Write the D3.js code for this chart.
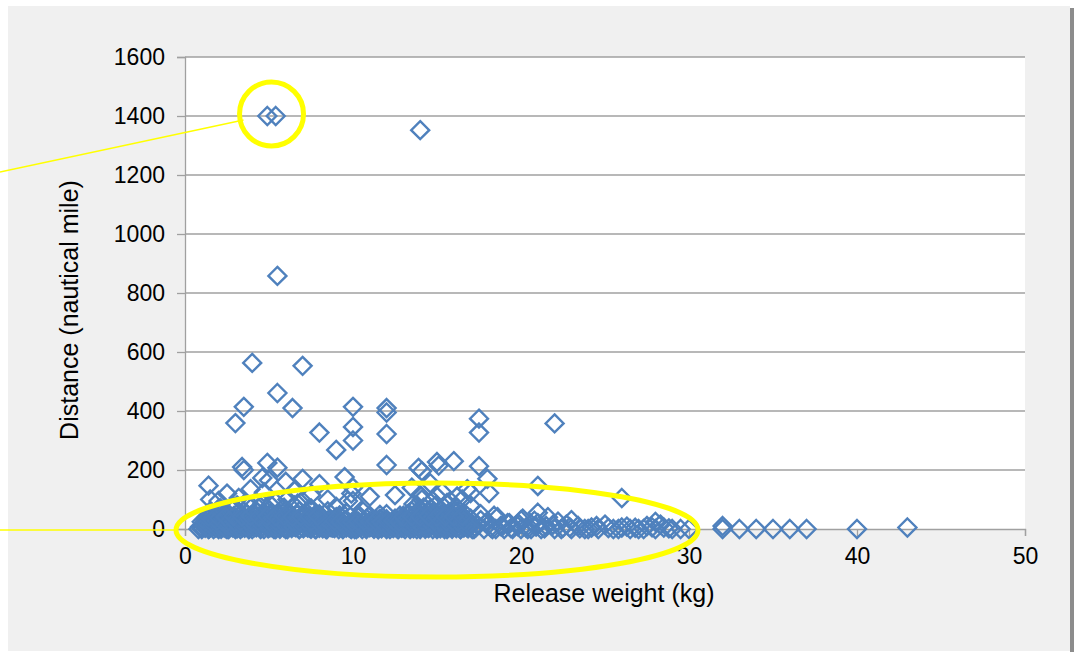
<!DOCTYPE html>
<html>
<head>
<meta charset="utf-8">
<script src="https://cdn.jsdelivr.net/npm/d3@7"></script>
<style>
  body { margin: 0; background: #fff; }
  svg text { font-family: "Liberation Sans", Arial, sans-serif; fill: #000; }
</style>
</head>
<body>
<svg id="chart" width="1080" height="653"></svg>
<script>
// tick labels
const xTicks = [0, 10, 20, 30, 40, 50];
const yTicks = [0, 200, 400, 600, 800, 1000, 1200, 1400, 1600];

// release weight (kg) / distance (nautical mile)
const outlierWeight = [4.9, 5.4, 14.0, 5.5, 4.0, 7.0, 5.5, 3.5, 6.4, 10.0, 12.0, 12.0, 3.0, 8.0, 10.0, 10.0, 12.0, 22.0, 17.5, 17.5,
  9.0, 12.0, 3.4, 3.5, 4.9, 5.5, 13.9, 14.1, 15.0, 15.1, 16.0, 17.5, 18.0, 1.4, 21.0, 26.0, 3.9, 8.0, 9.5, 17.0,
  18.1, 1.5, 2.0, 4.6, 5.0, 6.0, 7.0, 2.5, 13.5, 14.0, 15.3, 16.2, 16.8, 6.5, 7.5, 10.0, 11.0, 12.5, 8.5, 9.7,
  3.2, 4.7, 9.9, 14.6, 16.5];
const outlierDistance = [1400, 1400, 1352, 858, 563, 553, 461, 414, 410, 414, 410, 395, 359, 327, 346, 300, 322, 358, 374, 327,
  268, 217, 210, 200, 224, 208, 207, 196, 227, 215, 230, 213, 170, 147, 146, 105, 135, 152, 176, 122,
  122, 100, 95, 173, 165, 160, 170, 120, 140, 115, 125, 110, 135, 130, 115, 140, 110, 115, 100, 95,
  105, 125, 120, 155, 100];

const clusterWeight = [0.8, 1.0, 1.0, 1.2, 1.3, 1.4, 1.5, 1.6, 1.8, 1.8, 2.0, 2.0, 2.1, 2.3, 2.4, 2.5, 2.6, 2.8, 2.8, 3.0,
  3.0, 3.1, 3.2, 3.4, 3.5, 3.6, 3.8, 3.8, 4.0, 4.0, 4.2, 4.3, 4.5, 4.5, 4.6, 4.8, 5.0, 5.0, 5.1, 5.3,
  5.4, 5.5, 5.6, 5.8, 6.0, 6.0, 6.1, 6.2, 6.4, 6.5, 6.6, 6.8, 6.8, 7.0, 7.0, 7.2, 7.4, 7.5, 7.6, 7.8,
  8.0, 8.0, 8.2, 8.4, 8.5, 8.6, 8.8, 9.0, 9.0, 9.2, 9.4, 9.5, 9.6, 9.8, 10.0, 10.0, 10.2, 10.3, 10.5, 10.6,
  10.8, 11.0, 11.0, 11.2, 11.4, 11.5, 11.6, 11.8, 12.0, 12.0, 12.2, 12.4, 12.5, 12.7, 12.8, 13.0, 13.0, 13.2, 13.4, 13.5,
  13.6, 13.8, 13.8, 14.0, 14.0, 14.1, 14.2, 14.3, 14.5, 14.5, 14.6, 14.8, 14.8, 15.0, 15.0, 15.1, 15.2, 15.4, 15.5, 15.6,
  15.7, 15.8, 16.0, 16.0, 16.2, 16.4, 16.5, 16.6, 16.8, 17.0, 17.0, 17.2, 17.4, 17.6, 17.8, 18.0, 18.2, 18.5, 18.6, 18.8,
  19.0, 19.3, 19.5, 19.8, 20.0, 20.0, 20.3, 20.6, 21.0, 21.0, 21.2, 21.5, 22.0, 22.2, 22.5, 23.0, 23.0, 23.4, 23.8, 24.2,
  24.6, 25.0, 25.5, 26.0, 26.5, 27.0, 27.5, 28.0, 28.0, 28.5, 29.0, 30.0, 32.0, 32.0, 33.0, 34.0, 35.0, 36.0, 37.0, 40.0,
  43.0, 1.1, 1.7, 2.2, 2.7, 3.3, 3.9, 4.4, 4.9, 5.2, 5.7, 6.3, 6.9, 7.3, 7.9, 8.7, 9.3, 9.9, 10.7, 11.3,
  11.9, 12.6, 13.1, 13.7, 14.4, 14.9, 15.3, 15.9, 16.3, 16.9];
const clusterDistance = [0, 5, 25, 10, 40, 0, 60, 20, 5, 45, 0, 30, 70, 15, 50, 0, 35, 10, 65, 0,
  25, 80, 45, 5, 60, 20, 0, 40, 75, 10, 30, 55, 0, 20, 85, 45, 5, 65, 30, 0,
  90, 50, 15, 70, 0, 35, 100, 55, 10, 80, 30, 0, 60, 20, 95, 45, 5, 70, 30, 0,
  50, 15, 35, 0, 60, 20, 5, 40, 75, 10, 0, 30, 55, 5, 20, 95, 0, 40, 10, 60,
  0, 25, 45, 5, 15, 0, 35, 10, 0, 50, 20, 5, 35, 0, 15, 45, 5, 25, 0, 60,
  15, 80, 35, 0, 50, 100, 20, 70, 5, 40, 90, 25, 60, 0, 110, 45, 15, 75, 30, 0,
  55, 95, 10, 40, 70, 0, 25, 55, 5, 35, 80, 0, 15, 50, 0, 25, 5, 0, 40, 10,
  0, 20, 0, 10, 0, 30, 5, 0, 20, 55, 0, 10, 0, 25, 5, 0, 30, 10, 0, 5,
  0, 15, 0, 5, 0, 0, 10, 0, 24, 5, 0, 0, 0, 10, 0, 0, 0, 0, 0, 0,
  5, 15, 30, 10, 25, 15, 35, 10, 25, 40, 10, 25, 40, 10, 25, 30, 15, 0, 25, 10,
  30, 10, 25, 10, 30, 15, 25, 10, 20, 15];

// the near-zero band, which prints as a solid mass
const bottomWeight = [1.0, 1.2, 1.45, 1.7, 1.9, 2.15, 2.4, 2.6, 2.85, 3.1, 3.3, 3.55, 3.8, 4.0, 4.25, 4.5, 4.7, 4.95, 5.2, 5.4,
  5.65, 5.9, 6.1, 6.35, 6.6, 6.8, 7.05, 7.3, 7.5, 7.75, 8.0, 8.2, 8.45, 8.7, 8.9, 9.15, 9.4, 9.6, 9.85, 10.1,
  10.3, 10.55, 10.8, 11.0, 11.25, 11.5, 11.7, 11.95, 12.2, 12.4, 12.65, 12.9, 13.1, 13.35, 13.6, 13.8, 14.05, 14.3, 14.5, 14.75,
  15.0, 15.2, 15.45, 15.7, 15.9, 16.15, 16.4, 16.6, 16.85, 17.1,
  1.1, 1.4, 1.75, 2.05, 2.35, 2.7, 3.0, 3.3, 3.65, 3.95, 4.3, 4.6, 4.9, 5.25, 5.55, 5.9, 6.2, 6.5, 6.85, 7.15,
  7.5, 7.8, 8.1, 8.45, 8.75, 9.1, 9.4, 9.7, 10.05, 10.35, 10.7, 11.0, 11.3, 11.65, 11.95, 12.3, 12.6, 12.9, 13.25, 13.55,
  13.9, 14.2, 14.5, 14.85, 15.15, 15.5, 15.8, 16.1, 16.45, 16.75,
  1.3, 1.7, 2.1, 2.5, 2.9, 3.3, 3.7, 4.1, 4.5, 4.9, 5.3, 5.7, 6.1, 6.5, 6.9, 7.3, 7.7, 8.1, 8.6, 9.1,
  9.6, 10.2, 10.8, 11.4, 12.0, 12.6, 13.1, 13.5, 13.9, 14.3, 14.7, 15.1, 15.5, 15.9, 16.3, 16.7,
  1.6, 2.2, 2.7, 3.2, 3.7, 4.2, 4.7, 5.2, 5.7, 6.2, 6.7, 7.2, 7.7, 8.3, 9.2, 10.4, 11.6, 12.8, 13.3, 13.8,
  14.3, 14.8, 15.3, 15.8, 16.3,
  2.0, 2.9, 3.6, 4.4, 5.1, 5.9, 6.7, 7.4, 13.6, 14.2, 14.9, 15.6, 16.1,
  17.3, 17.9, 18.3, 18.9, 19.4, 19.9, 20.4, 20.9, 21.4, 21.9, 22.4, 22.9, 23.5, 24.0, 24.5, 25.2, 25.8, 26.3, 26.8, 27.3,
  27.8, 28.3, 28.8, 29.5];
const bottomDistance = [0, 4, 2, 0, 6, 1, 3, 0, 5, 2, 0, 4, 1, 0, 6, 3, 0, 2, 5, 0,
  1, 4, 0, 3, 6, 0, 2, 5, 1, 0, 4, 2, 0, 6, 3, 0, 1, 5, 2, 0,
  4, 0, 3, 6, 1, 0, 2, 5, 0, 3, 1, 4, 0, 6, 2, 0, 5, 1, 3, 0,
  4, 2, 0, 6, 1, 3, 0, 5, 2, 0,
  15, 20, 12, 18, 22, 14, 17, 21, 13, 19, 16, 22, 12, 18, 15, 20, 14, 21, 17, 13,
  19, 16, 22, 12, 18, 15, 20, 14, 17, 21, 13, 19, 16, 12, 18, 22, 15, 20, 14, 17,
  21, 13, 19, 16, 12, 18, 22, 15, 20, 14,
  32, 38, 30, 36, 40, 34, 29, 37, 33, 39, 31, 35, 38, 30, 36, 33, 40, 29, 34, 37,
  31, 28, 35, 30, 33, 29, 36, 38, 32, 40, 34, 37, 30, 35, 39, 32,
  48, 55, 45, 58, 50, 46, 56, 52, 47, 54, 49, 57, 45, 50, 46, 44, 48, 45, 52, 58,
  47, 55, 50, 56, 48,
  68, 75, 88, 70, 82, 72, 86, 68, 85, 72, 78, 88, 74,
  5, 20, 0, 10, 3, 15, 0, 8, 2, 14, 0, 6, 2, 0, 10, 3, 0, 8, 4, 0,
  6, 15, 2, 0];

// more of the same band, filling the gaps between the rows above
const fillWeight = [0.9, 1.15, 1.35, 1.6, 1.85, 2.05, 2.3, 2.55, 2.75, 3.0, 3.2, 3.45, 3.7, 3.9, 4.15, 4.4, 4.6, 4.85, 5.1, 5.3,
  5.55, 5.8, 6.0, 6.25, 6.5, 6.7, 6.95, 7.2, 7.4, 7.65, 7.9, 8.1, 8.35, 8.6, 8.8, 9.05, 9.3, 9.5, 9.75, 10.0,
  10.2, 10.45, 10.7, 10.9, 11.15, 11.4, 11.6, 11.85, 12.1, 12.3, 12.55, 12.8, 13.0, 13.25, 13.5, 13.7, 13.95, 14.2, 14.4, 14.65,
  14.9, 15.1, 15.35, 15.6, 15.8, 16.05, 16.3, 16.5, 16.75, 17.0,
  1.2, 1.55, 1.9, 2.25, 2.6, 2.95, 3.3, 3.65, 4.0, 4.35, 4.7, 5.05, 5.4, 5.75, 6.1, 6.45, 6.8, 7.15, 7.5, 7.85,
  8.2, 8.55, 8.9, 9.25, 9.6, 9.95, 10.3, 10.65, 11.0, 11.35, 11.7, 12.05, 12.4, 12.75, 13.1, 13.45, 13.8, 14.15, 14.5, 14.85,
  15.2, 15.55, 15.9, 16.25, 16.6,
  1.4, 1.9, 2.4, 2.9, 3.4, 3.9, 4.4, 4.9, 5.4, 5.9, 6.4, 6.9, 7.4, 7.9, 13.0, 13.5, 14.0, 14.5, 15.0, 15.5,
  16.0, 16.5,
  17.6, 18.4, 19.2, 20.1, 20.8, 21.6, 22.7];
const fillDistance = [8, 10, 7, 9, 8, 10, 7, 9, 8, 10, 7, 9, 8, 10, 7, 9, 8, 10, 7, 9,
  8, 10, 7, 9, 8, 10, 7, 9, 8, 10, 7, 9, 8, 10, 7, 9, 8, 10, 7, 9,
  8, 10, 7, 9, 8, 10, 7, 9, 8, 10, 7, 9, 8, 10, 7, 9, 8, 10, 7, 9,
  8, 10, 7, 9, 8, 10, 7, 9, 8, 10,
  26, 24, 28, 25, 27, 24, 26, 28, 25, 27, 24, 26, 28, 25, 27, 24, 26, 28, 25, 27,
  24, 26, 28, 25, 27, 24, 26, 28, 25, 27, 24, 26, 28, 25, 27, 24, 26, 28, 25, 27,
  24, 26, 28, 25, 27,
  42, 44, 41, 43, 42, 44, 41, 43, 42, 44, 41, 43, 42, 44, 41, 43, 42, 44, 41, 43,
  42, 44,
  30, 45, 20, 35, 28, 40, 15];

const weights = outlierWeight.concat(clusterWeight, bottomWeight, fillWeight);
const distances = outlierDistance.concat(clusterDistance, bottomDistance, fillDistance);
const points = weights.map((w, i) => ({ w: w, d: distances[i] }));

const svg = d3.select("#chart");
const margin = { left: 185, right: 55, top: 57, bottom: 124 };
const width = 1080 - margin.left - margin.right;
const height = 653 - margin.top - margin.bottom;

// grey panel with a shadow on the right
svg.append("rect").attr("x", 1070).attr("y", 8).attr("width", 4).attr("height", 644).attr("fill", "#8c8c8c");
svg.append("rect").attr("x", 8).attr("y", 6).attr("width", 1062).attr("height", 645).attr("fill", "#f0f0f0");

const x = d3.scaleLinear().domain([0, 50]).range([0, width]);
const y = d3.scaleLinear().domain([0, 1600]).range([height, 0]);

const g = svg.append("g").attr("transform", `translate(${margin.left},${margin.top})`);

g.append("rect").attr("width", width).attr("height", height).attr("fill", "#fff");

// gridlines
g.append("g")
  .selectAll("line")
  .data(yTicks.filter((t) => t > 0))
  .join("line")
  .attr("x1", 0)
  .attr("x2", width)
  .attr("y1", (d) => y(d))
  .attr("y2", (d) => y(d))
  .attr("stroke", "#a0a0a0")
  .attr("stroke-width", 1.3);

const yAxis = g.append("g")
  .call(d3.axisLeft(y).tickValues(yTicks).tickSize(8).tickPadding(12).tickFormat(d3.format("d")));
const xAxis = g.append("g")
  .attr("transform", `translate(0,${height})`)
  .call(d3.axisBottom(x).tickValues(xTicks).tickSize(7).tickPadding(12).tickFormat(d3.format("d")));

[yAxis, xAxis].forEach((a) => {
  a.select(".domain").attr("stroke", "#a0a0a0").attr("stroke-width", 1.3);
  a.selectAll(".tick line").attr("stroke", "#a0a0a0").attr("stroke-width", 1.3);
  a.selectAll(".tick text").style("font-size", "23px").attr("fill", "#000");
});

// diamond markers
g.append("g")
  .selectAll("path")
  .data(points)
  .join("path")
  .attr("transform", (d) => `translate(${x(d.w)},${y(d.d)})`)
  .attr("d", "M0,-9L9,0L0,9L-9,0Z")
  .attr("fill", "none")
  .attr("stroke", "#4f81bd")
  .attr("stroke-width", 2.4);

// axis titles
svg.append("text")
  .attr("x", margin.left + x(25) - 1)
  .attr("y", 602)
  .attr("text-anchor", "middle")
  .style("font-size", "25px")
  .text("Release weight (kg)");

svg.append("text")
  .attr("transform", `translate(78,${margin.top + height / 2 + 17}) rotate(-90)`)
  .attr("text-anchor", "middle")
  .style("font-size", "25px")
  .text("Distance (nautical mile)");

// yellow highlights
svg.append("line")
  .attr("x1", 0).attr("y1", 172)
  .attr("x2", margin.left + x(5.15) - 28).attr("y2", margin.top + y(1400) + 4)
  .attr("stroke", "#ffff00").attr("stroke-width", 1.5);
svg.append("line")
  .attr("x1", 0).attr("y1", margin.top + y(0) + 1)
  .attr("x2", margin.left + x(15) - 262).attr("y2", margin.top + y(0) + 1)
  .attr("stroke", "#ffff00").attr("stroke-width", 1.5);
svg.append("circle")
  .attr("cx", margin.left + x(5.15))
  .attr("cy", margin.top + y(1400) - 2)
  .attr("r", 32)
  .attr("fill", "none")
  .attr("stroke", "#ffff00")
  .attr("stroke-width", 5);
svg.append("ellipse")
  .attr("cx", margin.left + x(15))
  .attr("cy", margin.top + y(0) + 1)
  .attr("rx", 261)
  .attr("ry", 47)
  .attr("fill", "none")
  .attr("stroke", "#ffff00")
  .attr("stroke-width", 5);
</script>
</body>
</html>
